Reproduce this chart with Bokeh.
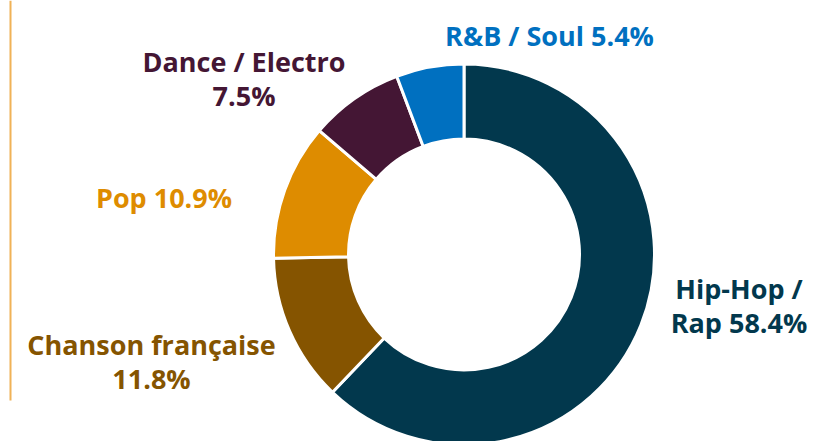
import numpy as np
from bokeh.plotting import figure
from bokeh.models import Range1d, ColumnDataSource
from bokeh.core.properties import value
from bokeh.embed import file_html
from bokeh.resources import INLINE

# ---- data ----
genres = ["Hip-Hop / Rap", "Chanson française", "Pop", "Dance / Electro", "R&B / Soul"]
shares = [58.4, 11.8, 10.9, 7.5, 5.4]
colors = ["#02384d", "#855400", "#de8c00", "#441634", "#0070c0"]
labels = ["Hip-Hop /\nRap 58.4%", "Chanson française\n11.8%", "Pop 10.9%",
          "Dance / Electro\n7.5%", "R&B / Soul 5.4%"]

W, H = 813, 441
p = figure(width=W, height=H, output_backend="svg", toolbar_location=None,
           x_range=Range1d(0, W), y_range=Range1d(0, H), min_border=0,
           outline_line_color=None)
p.axis.visible = False
p.grid.visible = False
p.background_fill_color = "white"
p.border_fill_color = "white"

def wy(y):  # window y -> data y
    return H - y

def wx(x):
    return x

cx, cy = wx(463.5), wy(254)
vals = np.array(shares, dtype=float)
frac = vals / vals.sum()
cum = np.concatenate([[0], np.cumsum(frac)])
start = np.pi / 2 - cum[1:] * 2 * np.pi
end = np.pi / 2 - cum[:-1] * 2 * np.pi

src = ColumnDataSource(dict(start=start, end=end, color=colors, genre=genres))
p.annular_wedge(x=cx, y=cy, inner_radius=115.5, outer_radius=190.5,
                inner_radius_units="screen", outer_radius_units="screen",
                start_angle="start", end_angle="end", color="color",
                line_color="white", line_width=3, source=src)

# decorative vertical rule at left
p.segment(x0=wx(10), y0=wy(0), x1=wx(10), y1=wy(400), line_color="#f0b257", line_width=2)

# label positions (center x, first-line baseline in window pixels)
label_pos = [(738.5, 288), (151, 344), (163.5, 197), (243.5, 61), (549, 35)]
line_gap = 34
tx, ty, tt, tc = [], [], [], []
for lab, (x, y), c in zip(labels, label_pos, colors):
    for i, line in enumerate(lab.split("\n")):
        tx.append(wx(x)); ty.append(wy(y + i * line_gap)); tt.append(line); tc.append(c)
p.text(x=tx, y=ty, text=tt, text_color=tc, text_align="center",
       text_baseline="alphabetic", text_font=value("Open Sans"),
       text_font_style="bold", text_font_size="27px")

open("out.html", "w").write(file_html(p, INLINE))
